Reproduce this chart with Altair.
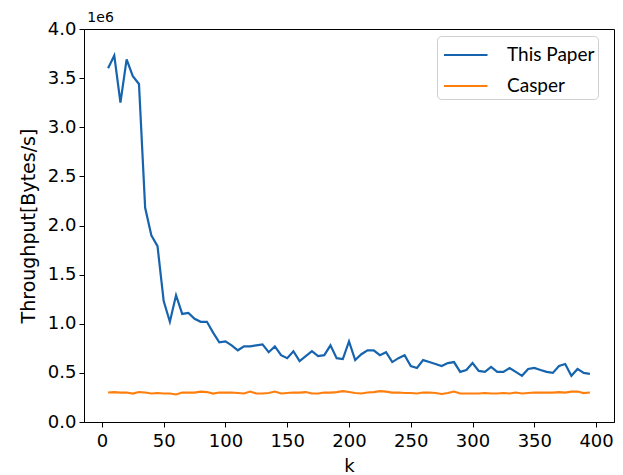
import altair as alt
import pandas as pd

# k values (5 to 395 in steps of 5)
k_values = list(range(5, 400, 5))

# Throughput in units of 1e6 Bytes/s
this_paper = [
    3.60, 3.73, 3.25, 3.69, 3.52, 3.44, 2.18, 1.90, 1.79, 1.23,
    1.02, 1.29, 1.10, 1.11, 1.05, 1.02, 1.02, 0.91, 0.81, 0.82,
    0.78, 0.73, 0.77, 0.77, 0.78, 0.79, 0.71, 0.77, 0.68, 0.65,
    0.72, 0.62, 0.67, 0.72, 0.67, 0.68, 0.78, 0.65, 0.64, 0.82,
    0.63, 0.69, 0.73, 0.73, 0.68, 0.71, 0.61, 0.65, 0.68, 0.57,
    0.55, 0.63, 0.61, 0.59, 0.57, 0.60, 0.61, 0.51, 0.53, 0.60,
    0.52, 0.51, 0.56, 0.51, 0.51, 0.55, 0.51, 0.47, 0.54, 0.55,
    0.53, 0.51, 0.50, 0.57, 0.59, 0.47, 0.54, 0.50, 0.49,
]
casper = [
    0.300, 0.305, 0.300, 0.300, 0.290, 0.305, 0.300, 0.290, 0.295, 0.290,
    0.290, 0.280, 0.300, 0.300, 0.300, 0.310, 0.305, 0.290, 0.300, 0.300,
    0.300, 0.295, 0.290, 0.310, 0.290, 0.290, 0.295, 0.310, 0.290, 0.295,
    0.300, 0.300, 0.305, 0.290, 0.290, 0.300, 0.300, 0.305, 0.315, 0.305,
    0.295, 0.290, 0.300, 0.305, 0.315, 0.310, 0.300, 0.300, 0.295, 0.295,
    0.290, 0.300, 0.300, 0.295, 0.285, 0.295, 0.310, 0.290, 0.290, 0.290,
    0.290, 0.295, 0.290, 0.290, 0.295, 0.290, 0.300, 0.290, 0.295, 0.300,
    0.300, 0.300, 0.300, 0.305, 0.300, 0.310, 0.310, 0.295, 0.300,
]

series_names = ["This Paper", "Casper"]
series_colors = ["#1764ae", "#ff7f0e"]

x_ticks = list(range(0, 401, 50))
y_ticks = [0.0, 0.5, 1.0, 1.5, 2.0, 2.5, 3.0, 3.5, 4.0]

df = pd.concat([
    pd.DataFrame({"k": k_values, "throughput": this_paper, "series": series_names[0]}),
    pd.DataFrame({"k": k_values, "throughput": casper, "series": series_names[1]}),
])

axis_font = "DejaVu Sans"

# long horizontal stroke used as the legend swatch
legend_swatch = "M-1,0H1.9"

chart = (
    alt.Chart(df)
    .mark_line(strokeWidth=2.2)
    .encode(
        x=alt.X(
            "k:Q",
            title="k",
            scale=alt.Scale(domain=[-14.5, 414.5], nice=False, zero=False),
            axis=alt.Axis(values=x_ticks, format="d", grid=False,
                          labelPadding=5, titlePadding=7),
        ),
        y=alt.Y(
            "throughput:Q",
            title="Throughput[Bytes/s]",
            scale=alt.Scale(domain=[0, 4], nice=False),
            axis=alt.Axis(values=y_ticks, format=".1f", grid=False,
                          labelPadding=3, titlePadding=9, titleFontSize=19),
        ),
        color=alt.Color(
            "series:N",
            sort=series_names,
            scale=alt.Scale(domain=series_names, range=series_colors),
            legend=alt.Legend(
                title=None,
                orient="none",
                legendX=353,
                legendY=7,
                symbolType=legend_swatch,
                symbolSize=900,
                symbolStrokeWidth=2,
                symbolOffset=3,
                labelFont="Lato",
                labelFontSize=19,
                labelColor="black",
                labelOffset=32,
                rowPadding=5,
                padding=3,
                strokeColor="#d0d0d0",
                fillColor="white",
                cornerRadius=4,
            ),
        ),
        detail="series:N",
    )
    .properties(
        width=530,
        height=393,
        padding={"left": 84, "top": 29, "right": 9, "bottom": 53},
        autosize=alt.AutoSizeParams(type="none"),
        title=alt.TitleParams(
            "1e6", anchor="start", fontSize=14, fontWeight="normal",
            font=axis_font, color="black", offset=4, dy=9, dx=68,
        ),
    )
    .configure_view(stroke="black", strokeWidth=1)
    .configure_axis(
        labelFont=axis_font,
        labelFontSize=18,
        labelColor="black",
        titleFont=axis_font,
        titleFontSize=18,
        titleFontWeight="normal",
        titleColor="black",
        domainColor="black",
        tickColor="black",
        tickSize=5,
    )
)

chart.save("out.html", embed_options={"renderer": "svg", "actions": False})
